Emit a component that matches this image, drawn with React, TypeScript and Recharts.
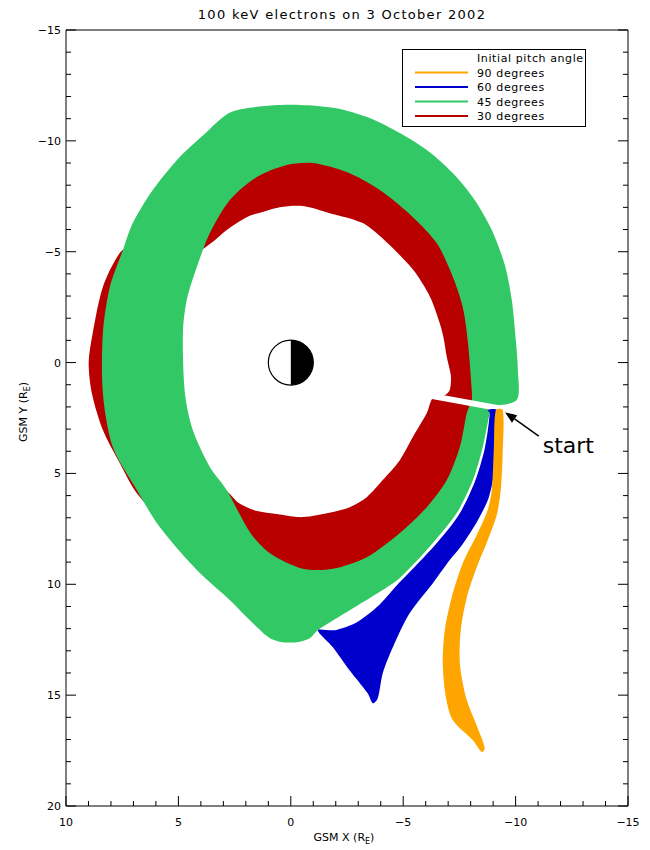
import React from 'react';
import { ScatterChart, Scatter, XAxis, YAxis, ReferenceLine, Legend } from 'recharts';

const xTicks = [-15, -14, -13, -12, -11, -10, -9, -8, -7, -6, -5, -4, -3, -2, -1, 0, 1, 2, 3, 4, 5, 6, 7, 8, 9, 10];
const yTicks = [-15, -14, -13, -12, -11, -10, -9, -8, -7, -6, -5, -4, -3, -2, -1, 0, 1, 2, 3, 4, 5, 6, 7, 8, 9, 10, 11, 12, 13, 14, 15, 16, 17, 18, 19, 20];

const titleText = '100 keV electrons on 3 October 2002';
const legendTitle = 'Initial pitch angle';
const legendLabels = ['90 degrees', '60 degrees', '45 degrees', '30 degrees'];
const legendColors = ['#FFA500', '#0000CC', '#33C866', '#B80000'];

// 30 degrees (red) drift shell: outer and inner boundaries (GSM X, GSM Y in R_E)
const redOuter: [number, number][] = [
  [-8.2, 1.5], [-8.2, 1.24], [-8.02, -1.01], [-7.8, -2.55], [-7.35, -3.95], [-6.6, -5.5], [-5.52, -6.68],
  [-4.03, -7.9], [-2.53, -8.72], [-0.98, -9.14], [0.18, -9.05], [1.55, -8.5], [2.8, -7.45], [4.05, -6.65],
  [5.6, -6.06], [6.94, -5.39], [7.61, -4.94], [8.36, -3.41], [8.81, -1.33], [8.99, 0.02], [8.85, 1.38],
  [8.36, 3.04], [7.61, 4.53], [6.85, 5.89], [5.83, 6.88], [4.05, 7.33], [2.6, 7.2], [1.6, 8.3], [0.5, 9.2],
  [-0.53, 9.6], [-1.9, 9.5], [-3.45, 8.9], [-4.95, 7.8], [-6.17, 6.6], [-7.07, 5.38], [-7.66, 3.86],
  [-7.98, 2.3], [-8.1, 1.7],
];
const redInner: [number, number][] = [
  [-7.07, 1.24], [-7.12, 0.6], [-6.94, -0.25], [-6.8, -1.1], [-6.63, -1.76], [-6.2, -2.95], [-5.45, -4.17],
  [-4.3, -5.39], [-3.2, -6.29], [-1.73, -6.74], [-0.53, -7.06], [0.49, -7.01], [1.3, -6.78], [1.96, -6.56],
  [2.85, -5.98], [3.38, -5.52], [4.27, -4.85], [5.6, -3.72], [6.72, -1.92], [6.94, -0.11], [6.72, 2.14],
  [6.05, 4.4], [4.9, 5.5], [3.8, 5.7], [2.94, 5.75], [2.3, 6.35], [1.5, 6.7], [0.5, 6.85], [-0.53, 6.97],
  [-1.87, 6.74], [-2.62, 6.52], [-3.38, 6.07], [-4.09, 5.3], [-4.85, 4.4], [-5.43, 3.36], [-6.05, 2.28],
  [-6.32, 1.6], [-6.85, 1.47],
];

// 45 degrees (green) drift shell
const greenOuter: [number, number][] = [
  [-10.05, 1.69], [-10.1, 0.34], [-10.01, -1.01], [-9.83, -2.82], [-9.52, -4.4], [-8.94, -5.98], [-8.18, -7.33],
  [-7.29, -8.46], [-6.18, -9.49], [-4.85, -10.35], [-3.51, -11.03], [-1.96, -11.48], [-0.4, -11.62], [1.16, -11.57],
  [2.7, -11.28], [3.85, -10.3], [4.94, -9.27], [6.14, -7.78], [7.03, -6.29], [7.47, -5.07], [8.05, -3.41],
  [8.36, -1.33], [8.36, 1.38], [7.92, 3.81], [6.85, 5.75], [5.83, 7.42], [4.18, 9.36], [2.71, 10.72],
  [1.51, 11.93], [0.93, 12.43], [0.36, 12.61], [-0.27, 12.61], [-0.85, 12.43], [-1.2, 12.07], [-2.62, 11.17],
  [-4.09, 10.26], [-4.85, 9.72], [-6.32, 8.14], [-7.38, 6.79], [-8.1, 5.3], [-8.54, 3.81], [-8.85, 2.28],
  [-8.94, 2.01],
];
const greenInner: [number, number][] = [
  [-8.05, 1.78], [-8.05, 1.24], [-7.87, -1.01], [-7.65, -2.5], [-7.21, -3.86], [-6.49, -5.39], [-5.43, -6.56],
  [-3.96, -7.78], [-2.49, -8.59], [-0.98, -9.0], [0.18, -8.91], [1.51, -8.37], [2.71, -7.33], [3.6, -5.84],
  [4.18, -4.31], [4.63, -2.82], [4.8, -1.33], [4.71, 1.38], [4.36, 3.04], [3.6, 4.71], [2.85, 5.75],
  [2.35, 6.7], [1.75, 7.75], [0.93, 8.6], [-0.53, 9.3], [-1.87, 9.3], [-3.38, 8.78], [-4.85, 7.69], [-6.05, 6.52],
  [-6.94, 5.3], [-7.52, 3.81], [-7.83, 2.28], [-7.96, 1.92],
];

// 60 degrees (blue) open trajectory
const blueEdge: [number, number][] = [
  [-8.76, 2.14], [-9.16, 2.14], [-9.21, 3.5], [-9.07, 4.85], [-8.81, 6.07], [-8.32, 7.11], [-7.61, 8.24],
  [-7.07, 8.91], [-6.32, 9.95], [-5.29, 11.3], [-4.54, 12.84], [-4.09, 14.01], [-3.87, 15.14], [-3.65, 15.37],
  [-3.42, 14.92], [-2.62, 13.89], [-1.87, 12.84], [-1.2, 12.07], [-1.96, 12.07], [-2.94, 11.71], [-3.83, 11.03],
  [-4.72, 10.04], [-4.94, 9.81], [-6.41, 8.24], [-7.47, 6.88], [-8.18, 5.39], [-8.63, 3.86], [-8.85, 2.28],
];

// 90 degrees (orange) open trajectory
const orangeEdge: [number, number][] = [
  [-9.43, 2.14], [-9.43, 3.95], [-9.34, 5.75], [-9.16, 6.88], [-8.76, 8.01], [-8.27, 9.23], [-7.83, 10.58],
  [-7.56, 12.07], [-7.52, 13.56], [-7.79, 15.09], [-8.23, 16.27], [-8.63, 17.39], [-8.5, 17.57], [-8.1, 17.03],
  [-7.21, 16.13], [-6.9, 15.09], [-6.76, 13.56], [-6.85, 12.07], [-7.16, 10.58], [-7.65, 9.05], [-8.27, 7.78],
  [-8.76, 6.65], [-8.94, 5.75], [-9.03, 3.95], [-9.12, 2.14],
];

// white gap between first and last drift orbit
const gapLine: [number, number][] = [[-6.18, 1.49], [-10.19, 2.23]];
const earth: [number, number][] = [[0, 0]];
const startArrow: [number, number][] = [[-11.03, 3.32], [-9.52, 2.23]];

const FONT = 'DejaVu Sans';
const toPts = (a: [number, number][]) => a.map(([x, y]) => ({ x, y }));

// closed spline through the boundary points (length-weighted tangents, little overshoot)
const dist = (a: any, b: any) => Math.hypot(b.x - a.x, b.y - a.y) || 1e-6;
const smoothLoop = (a: any[]) => {
  const n = a.length;
  if (n < 3) return '';
  let d = `M${a[0].x},${a[0].y}`;
  for (let i = 0; i < n; i++) {
    const p0 = a[(i - 1 + n) % n], p1 = a[i], p2 = a[(i + 1) % n], p3 = a[(i + 2) % n];
    const d01 = dist(p0, p1), d12 = dist(p1, p2), d23 = dist(p2, p3);
    const k1 = (0.85 * d12) / (3 * (d01 + d12)) * 2;
    const k2 = (0.85 * d12) / (3 * (d12 + d23)) * 2;
    const c1x = p1.x + (p2.x - p0.x) * k1 * 0.5, c1y = p1.y + (p2.y - p0.y) * k1 * 0.5;
    const c2x = p2.x - (p3.x - p1.x) * k2 * 0.5, c2y = p2.y - (p3.y - p1.y) * k2 * 0.5;
    d += `C${c1x.toFixed(2)},${c1y.toFixed(2)} ${c2x.toFixed(2)},${c2y.toFixed(2)} ${p2.x.toFixed(2)},${p2.y.toFixed(2)}`;
  }
  return d + 'Z';
};

const fillPath = (color: string, nOuter: number) => (p: any) => {
  const pts = p.points || [];
  const d = smoothLoop(pts.slice(0, nOuter)) + smoothLoop(pts.slice(nOuter));
  return <path d={d} fill={color} fillRule="evenodd" stroke="none" />;
};

const fmt = (v: number) => (v < 0 ? '\u2212' + Math.abs(v) : String(v));
const len = (v: number) => (v % 5 === 0 ? 10 : 5);

const BottomTick = ({ x, y, payload }: any) => (
  <g>
    <line x1={x} y1={y} x2={x} y2={y - len(payload.value)} stroke="#000" />
    {payload.value % 5 === 0 && (
      <text x={x} y={y + 20} textAnchor="middle" fontFamily={FONT} fontSize={11} fill="#000">{fmt(payload.value)}</text>
    )}
  </g>
);
const TopTick = ({ x, y, payload }: any) => (
  <line x1={x} y1={y} x2={x} y2={y + len(payload.value)} stroke="#000" />
);
const LeftTick = ({ x, y, payload }: any) => (
  <g>
    <line x1={x} y1={y} x2={x + len(payload.value)} y2={y} stroke="#000" />
    {payload.value % 5 === 0 && (
      <text x={x - 5} y={y + 4} textAnchor="end" fontFamily={FONT} fontSize={11} fill="#000">{fmt(payload.value)}</text>
    )}
  </g>
);
const RightTick = ({ x, y, payload }: any) => (
  <line x1={x} y1={y} x2={x - len(payload.value)} y2={y} stroke="#000" />
);

const ArrowShape = (p: any) => {
  const { x1, y1, x2, y2 } = p;
  const dx = x2 - x1, dy = y2 - y1;
  const L = Math.sqrt(dx * dx + dy * dy) || 1;
  const ux = dx / L, uy = dy / L;
  const hl = 12, hw = 4.5;
  const bx = x2 - ux * hl, by = y2 - uy * hl;
  return (
    <g>
      <line x1={x1} y1={y1} x2={bx} y2={by} stroke="#000" strokeWidth={1.5} />
      <polygon points={`${x2},${y2} ${bx - uy * hw},${by + ux * hw} ${bx + uy * hw},${by - ux * hw}`} fill="#000" />
      <text x={x1 + 4} y={y1 + 17} fontFamily={FONT} fontSize={22} fill="#000">start</text>
    </g>
  );
};

const EarthShape = ({ cx, cy }: any) => {
  const r = 22.5;
  return (
    <g>
      <circle cx={cx} cy={cy} r={r} fill="#fff" stroke="#000" strokeWidth={1.2} />
      <path d={`M${cx},${cy - r} A${r},${r} 0 0 1 ${cx},${cy + r} Z`} fill="#000" />
    </g>
  );
};

const LegendBox = () => (
  <div style={{ width: 184, height: 78, border: '1px solid #000', background: '#fff', boxSizing: 'border-box' }}>
    <svg width={182} height={76} style={{ display: 'block' }}>
      <text x={74} y={12} fontFamily={FONT} fontSize={11} letterSpacing={0.6} fill="#000">{legendTitle}</text>
      {legendLabels.map((lab, i) => (
        <g key={lab}>
          <line x1={12} x2={65} y1={22.5 + i * 14.5} y2={22.5 + i * 14.5} stroke={legendColors[i]} strokeWidth={2} />
          <text x={74} y={26.5 + i * 14.5} fontFamily={FONT} fontSize={11} letterSpacing={0.6} fill="#000">{lab}</text>
        </g>
      ))}
    </svg>
  </div>
);

const noDot = () => <g />;

export default function App() {
  return (
    <ScatterChart width={634} height={842} margin={{ top: 0, right: 0, bottom: 0, left: 0 }}>
      <XAxis xAxisId="x" dataKey="x" type="number" domain={[-15, 10]} reversed ticks={xTicks} interval={0}
        allowDataOverflow tickSize={0} tickMargin={0} tick={BottomTick} axisLine={{ stroke: '#000' }} height={44}
        label={{
          content: (p: any) => {
            const vb = p.viewBox;
            return (
              <text x={vb.x + vb.width / 2 - 3} y={vb.y + 35} textAnchor="middle" fontFamily={FONT} fontSize={11} fill="#000">
                GSM X (R<tspan fontSize={8} dy={3}>E</tspan><tspan dy={-3}>)</tspan>
              </text>
            );
          },
        }} />
      <XAxis xAxisId="xt" orientation="top" type="number" domain={[-15, 10]} reversed ticks={xTicks} interval={0}
        allowDataOverflow tickSize={0} tickMargin={0} tick={TopTick} axisLine={{ stroke: '#000' }} height={22}
        label={{
          content: (p: any) => {
            const vb = p.viewBox;
            return (
              <text x={vb.x + vb.width / 2 - 5} y={11} textAnchor="middle" fontFamily={FONT} fontSize={13} letterSpacing={1.3} fill="#000">
                {titleText}
              </text>
            );
          },
        }} />
      <YAxis yAxisId="y" dataKey="y" type="number" domain={[-15, 20]} reversed ticks={yTicks} interval={0}
        allowDataOverflow tickSize={0} tickMargin={0} tick={LeftTick} axisLine={{ stroke: '#000' }} width={58}
        label={{
          content: (p: any) => {
            const vb = p.viewBox;
            const cx = 19, cy = vb.y + vb.height / 2 - 6;
            return (
              <text x={cx} y={cy} transform={`rotate(-90 ${cx} ${cy})`} textAnchor="middle" fontFamily={FONT} fontSize={11} fill="#000">
                GSM Y (R<tspan fontSize={8} dy={3}>E</tspan><tspan dy={-3}>)</tspan>
              </text>
            );
          },
        }} />
      <YAxis yAxisId="yr" orientation="right" type="number" domain={[-15, 20]} reversed ticks={yTicks} interval={0}
        allowDataOverflow tickSize={0} tickMargin={0} tick={RightTick} axisLine={{ stroke: '#000' }} width={14} />

      <Scatter xAxisId="x" yAxisId="y" data={toPts([...redOuter, ...redInner])} fill={legendColors[3]}
        shape={noDot} line={fillPath(legendColors[3], redOuter.length)} isAnimationActive={false} />
      <Scatter xAxisId="x" yAxisId="y" data={toPts([...greenOuter, ...greenInner])} fill={legendColors[2]}
        shape={noDot} line={fillPath(legendColors[2], greenOuter.length)} isAnimationActive={false} />
      <Scatter xAxisId="x" yAxisId="y" data={toPts(gapLine)} fill="#fff" shape={noDot}
        line={{ stroke: '#fff', strokeWidth: 6 }} isAnimationActive={false} />
      <Scatter xAxisId="x" yAxisId="y" data={toPts(blueEdge)} fill={legendColors[1]}
        shape={noDot} line={fillPath(legendColors[1], blueEdge.length)} isAnimationActive={false} />
      <Scatter xAxisId="x" yAxisId="y" data={toPts(orangeEdge)} fill={legendColors[0]}
        shape={noDot} line={fillPath(legendColors[0], orangeEdge.length)} isAnimationActive={false} />
      <Scatter xAxisId="x" yAxisId="y" data={toPts(earth)} fill="#000" shape={EarthShape} isAnimationActive={false} />
      <ReferenceLine xAxisId="x" yAxisId="y" segment={toPts(startArrow)} shape={ArrowShape} />
      <Legend layout="horizontal" verticalAlign="middle" align="center" content={() => <LegendBox />}
        wrapperStyle={{ position: 'absolute', left: 394, top: 41, width: 184, height: 78 }} />
    </ScatterChart>
  );
}
